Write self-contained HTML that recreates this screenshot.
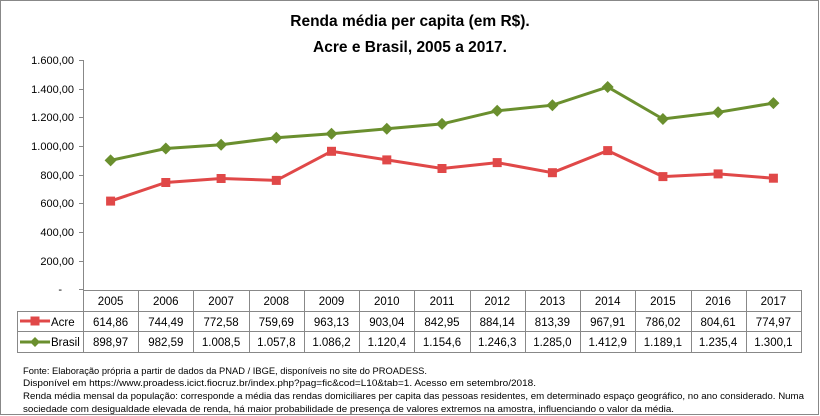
<!DOCTYPE html>
<html><head><meta charset="utf-8"><style>
body{margin:0;background:#fff;}
svg{display:block;font-family:"Liberation Sans",sans-serif;}
</style></head><body>
<svg width="820" height="416" viewBox="0 0 820 416" xmlns="http://www.w3.org/2000/svg">
<rect x="0.5" y="0.5" width="818" height="414" fill="#fff" stroke="#888"/>
<text x="410" y="26" text-anchor="middle" font-size="15.5" font-weight="bold">Renda média per capita (em R$).</text>
<text x="410" y="52" text-anchor="middle" font-size="15.5" font-weight="bold">Acre e Brasil, 2005 a 2017.</text>
<g stroke="#888" stroke-width="1">
<line x1="83.5" y1="60" x2="83.5" y2="290"/>
<line x1="79" y1="60.5" x2="83" y2="60.5"/><line x1="79" y1="89.5" x2="83" y2="89.5"/><line x1="79" y1="117.5" x2="83" y2="117.5"/><line x1="79" y1="146.5" x2="83" y2="146.5"/><line x1="79" y1="175.5" x2="83" y2="175.5"/><line x1="79" y1="203.5" x2="83" y2="203.5"/><line x1="79" y1="232.5" x2="83" y2="232.5"/><line x1="79" y1="261.5" x2="83" y2="261.5"/><line x1="79" y1="289.5" x2="83" y2="289.5"/>
</g>
<g font-size="11" text-anchor="end" fill="#000">
<text x="74" y="64">1.600,00</text><text x="74" y="93">1.400,00</text><text x="74" y="121">1.200,00</text><text x="74" y="150">1.000,00</text><text x="74" y="179">800,00</text><text x="74" y="207">600,00</text><text x="74" y="236">400,00</text><text x="74" y="265">200,00</text><text x="62" y="293">-</text>
</g>
<polyline fill="none" stroke="#6a8f2e" stroke-width="3" points="110.6,160.4 165.8,148.5 221.1,144.8 276.3,137.7 331.5,133.7 386.8,128.8 442,123.9 497.2,110.8 552.4,105.2 607.7,87 662.9,119 718.1,112.3 773.4,103.1"/>
<g fill="#6a8f2e">
<path d="M110.6 154.4l6 6-6 6-6-6z"/><path d="M165.8 142.5l6 6-6 6-6-6z"/><path d="M221.1 138.8l6 6-6 6-6-6z"/><path d="M276.3 131.7l6 6-6 6-6-6z"/><path d="M331.5 127.7l6 6-6 6-6-6z"/><path d="M386.8 122.8l6 6-6 6-6-6z"/><path d="M442 117.9l6 6-6 6-6-6z"/><path d="M497.2 104.8l6 6-6 6-6-6z"/><path d="M552.4 99.2l6 6-6 6-6-6z"/><path d="M607.7 81l6 6-6 6-6-6z"/><path d="M662.9 113l6 6-6 6-6-6z"/><path d="M718.1 106.3l6 6-6 6-6-6z"/><path d="M773.4 97.1l6 6-6 6-6-6z"/>
</g>
<polyline fill="none" stroke="#e04848" stroke-width="3" points="110.6,201.1 165.8,182.5 221.1,178.5 276.3,180.4 331.5,151.3 386.8,159.9 442,168.5 497.2,162.6 552.4,172.7 607.7,150.6 662.9,176.6 718.1,173.9 773.4,178.2"/>
<g fill="#e04848">
<rect x="106.1" y="196.6" width="9" height="9"/><rect x="161.3" y="178" width="9" height="9"/><rect x="216.6" y="174" width="9" height="9"/><rect x="271.8" y="175.9" width="9" height="9"/><rect x="327" y="146.8" width="9" height="9"/><rect x="382.3" y="155.4" width="9" height="9"/><rect x="437.5" y="164" width="9" height="9"/><rect x="492.7" y="158.1" width="9" height="9"/><rect x="547.9" y="168.2" width="9" height="9"/><rect x="603.2" y="146.1" width="9" height="9"/><rect x="658.4" y="172.1" width="9" height="9"/><rect x="713.6" y="169.4" width="9" height="9"/><rect x="768.9" y="173.7" width="9" height="9"/>
</g>
<g stroke="#888" stroke-width="1" fill="none">
<line x1="83" y1="290.5" x2="801" y2="290.5"/>
<line x1="17" y1="311.5" x2="801" y2="311.5"/>
<line x1="17" y1="331.5" x2="801" y2="331.5"/>
<line x1="17" y1="352.5" x2="801" y2="352.5"/>
<line x1="17.5" y1="311" x2="17.5" y2="353"/>
<line x1="83.5" y1="290" x2="83.5" y2="353"/><line x1="138.5" y1="290" x2="138.5" y2="353"/><line x1="193.5" y1="290" x2="193.5" y2="353"/><line x1="249.5" y1="290" x2="249.5" y2="353"/><line x1="304.5" y1="290" x2="304.5" y2="353"/><line x1="359.5" y1="290" x2="359.5" y2="353"/><line x1="414.5" y1="290" x2="414.5" y2="353"/><line x1="470.5" y1="290" x2="470.5" y2="353"/><line x1="525.5" y1="290" x2="525.5" y2="353"/><line x1="580.5" y1="290" x2="580.5" y2="353"/><line x1="635.5" y1="290" x2="635.5" y2="353"/><line x1="691.5" y1="290" x2="691.5" y2="353"/><line x1="746.5" y1="290" x2="746.5" y2="353"/><line x1="801.5" y1="290" x2="801.5" y2="353"/>
</g>
<line x1="20" y1="321" x2="50" y2="321" stroke="#e04848" stroke-width="3"/><rect x="30.5" y="316.5" width="9" height="9" fill="#e04848"/>
<line x1="20" y1="342" x2="50" y2="342" stroke="#6a8f2e" stroke-width="3"/><path d="M35 337l5 5-5 5-5-5z" fill="#6a8f2e"/>
<g font-size="11.5" text-anchor="middle">
<text x="110.6" y="305">2005</text><text x="165.8" y="305">2006</text><text x="221.1" y="305">2007</text><text x="276.3" y="305">2008</text><text x="331.5" y="305">2009</text><text x="386.8" y="305">2010</text><text x="442" y="305">2011</text><text x="497.2" y="305">2012</text><text x="552.4" y="305">2013</text><text x="607.7" y="305">2014</text><text x="662.9" y="305">2015</text><text x="718.1" y="305">2016</text><text x="773.4" y="305">2017</text>
<text x="110.6" y="326">614,86</text><text x="165.8" y="326">744,49</text><text x="221.1" y="326">772,58</text><text x="276.3" y="326">759,69</text><text x="331.5" y="326">963,13</text><text x="386.8" y="326">903,04</text><text x="442" y="326">842,95</text><text x="497.2" y="326">884,14</text><text x="552.4" y="326">813,39</text><text x="607.7" y="326">967,91</text><text x="662.9" y="326">786,02</text><text x="718.1" y="326">804,61</text><text x="773.4" y="326">774,97</text>
<text x="110.6" y="346">898,97</text><text x="165.8" y="346">982,59</text><text x="221.1" y="346">1.008,5</text><text x="276.3" y="346">1.057,8</text><text x="331.5" y="346">1.086,2</text><text x="386.8" y="346">1.120,4</text><text x="442" y="346">1.154,6</text><text x="497.2" y="346">1.246,3</text><text x="552.4" y="346">1.285,0</text><text x="607.7" y="346">1.412,9</text><text x="662.9" y="346">1.189,1</text><text x="718.1" y="346">1.235,4</text><text x="773.4" y="346">1.300,1</text>
</g>
<text x="51" y="326" font-size="11.5">Acre</text>
<text x="51" y="346" font-size="11.5">Brasil</text>
<g font-size="9.6">
<text x="23" y="374" textLength="404" lengthAdjust="spacingAndGlyphs">Fonte: Elaboração própria a partir de dados da PNAD / IBGE, disponíveis no site do PROADESS.</text>
<text x="23" y="386" textLength="513" lengthAdjust="spacingAndGlyphs">Disponível em https://www.proadess.icict.fiocruz.br/index.php?pag=fic&amp;cod=L10&amp;tab=1. Acesso em setembro/2018.</text>
<text x="23" y="399" textLength="781" lengthAdjust="spacingAndGlyphs">Renda média mensal da população: corresponde a média das rendas domiciliares per capita das pessoas residentes, em determinado espaço geográfico, no ano considerado. Numa</text>
<text x="23" y="412" textLength="651" lengthAdjust="spacingAndGlyphs">sociedade com desigualdade elevada de renda, há maior probabilidade de presença de valores extremos na amostra, influenciando o valor da média.</text>
</g>
</svg>
</body></html>
